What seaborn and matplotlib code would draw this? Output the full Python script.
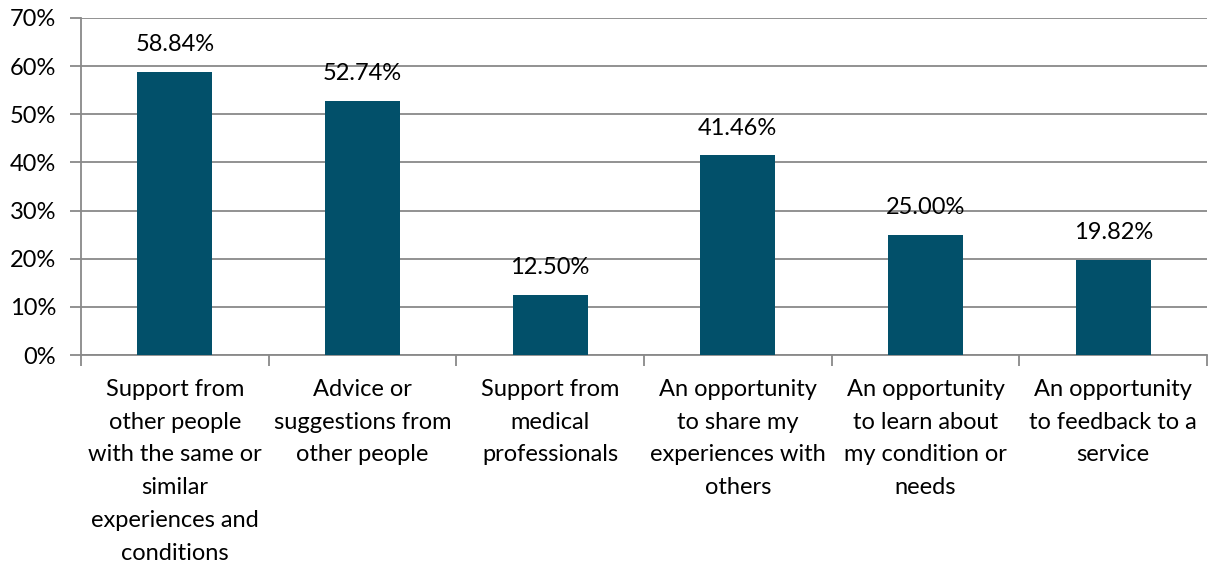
import matplotlib
matplotlib.use("Agg")
import matplotlib.pyplot as plt
import seaborn as sns
import pandas as pd
import numpy as np
from matplotlib.ticker import FixedLocator, NullFormatter, PercentFormatter

categories = [
    "Support from\nother people\nwith the same or\nsimilar\nexperiences and\nconditions",
    "Advice or\nsuggestions from\nother people",
    "Support from\nmedical\nprofessionals",
    "An opportunity\nto share my\nexperiences with\nothers",
    "An opportunity\nto learn about\nmy condition or\nneeds",
    "An opportunity\nto feedback to a\nservice",
]
values = [58.84, 52.74, 12.50, 41.46, 25.00, 19.82]
y_ticks = [0, 10, 20, 30, 40, 50, 60, 70]

bar_color = "#02506A"
grid_color = "#898989"
text_color = "#000000"
font_size = 17

sns.set_theme(style="white")
plt.rcParams["font.family"] = ["Lato", "DejaVu Sans"]

df = pd.DataFrame({"category": categories, "value": values})

fig = plt.figure(figsize=(12.12, 5.67), dpi=100)
ax = fig.add_axes([81 / 1212, 1 - 355 / 567, (1207 - 81) / 1212, (355 - 18) / 567])

sns.barplot(data=df, x="category", y="value", color=bar_color, width=0.4,
            saturation=1, linewidth=0, ax=ax, zorder=3)

ax.set_ylim(0, 70)
ax.set_xlim(-0.5, len(categories) - 0.5)
ax.set_yticks(y_ticks)
ax.yaxis.set_major_formatter(PercentFormatter(decimals=0))
ax.yaxis.grid(True, color=grid_color, linewidth=1.3, zorder=0)
ax.set_axisbelow(True)

# category separators as outward ticks on the x axis
ax.xaxis.set_minor_locator(FixedLocator(np.arange(-0.5, len(categories), 1.0)))
ax.xaxis.set_minor_formatter(NullFormatter())
ax.tick_params(axis="x", which="minor", length=8, width=1.3, color=grid_color,
               direction="out", bottom=True)
ax.tick_params(axis="x", which="major", length=0, pad=17, labelsize=font_size,
               labelcolor=text_color)
ax.tick_params(axis="y", which="major", length=8, width=1.3, color=grid_color,
               direction="out", left=True, pad=10, labelsize=font_size,
               labelcolor=text_color)
for lbl in ax.get_xticklabels():
    lbl.set_linespacing(1.7)
    lbl.set_verticalalignment("top")

for side in ["top", "right"]:
    ax.spines[side].set_visible(False)
for side in ["left", "bottom"]:
    ax.spines[side].set_color(grid_color)
    ax.spines[side].set_linewidth(1.3)

ax.set_xlabel("")
ax.set_ylabel("")

for container in ax.containers:
    ax.bar_label(container, labels=[f"{v:.2f}%" for v in values], padding=12,
                 fontsize=font_size, color=text_color)

fig.savefig("out.png", dpi=100)
